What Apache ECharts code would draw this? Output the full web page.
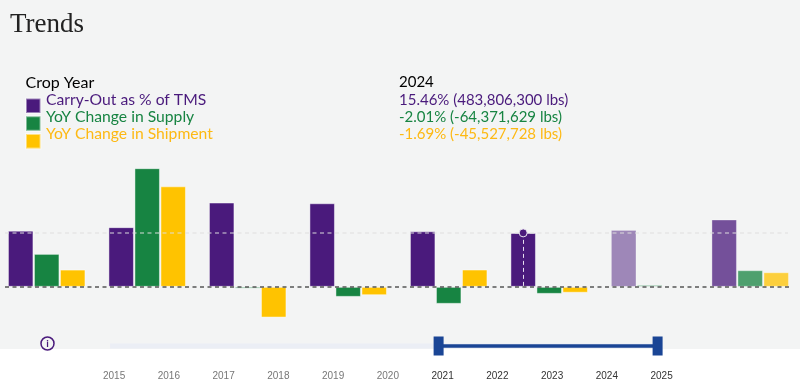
<!DOCTYPE html>
<html>
<head>
<meta charset="utf-8">
<script src="https://cdn.jsdelivr.net/npm/echarts@6/dist/echarts.min.js"></script>
<style>
  html, body { margin: 0; padding: 0; background: #fff; }
  /* grey panel stops where the year slider strip starts */
  #chart { width: 800px; height: 382px; background: linear-gradient(#f3f4f4 349px, #fff 349px); }
</style>
</head>
<body>
<div id="chart"></div>
<script>
  var categories = ['2019', '2020', '2021', '2022', '2023', '2024', '2025', '2026']
  var carryOut = [16.1, 17.1, 24.15, 23.95, 15.93, 15.46, 16.3, 19.3]
  var supply = [9.45, 34, -0.5, -2.87, -4.87, -2.01, 0.57, 4.76]
  var shipment = [4.95, 28.8, -8.8, -2.4, 4.96, -1.69, -0.3, 4.18]
  var referenceLevel = [15.56]

  var seriesNames = ['Carry-Out as % of TMS', 'YoY Change in Supply', 'YoY Change in Shipment']
  var readoutYear = ['2024']
  var readoutLines = ['15.46% (483,806,300 lbs)', '-2.01% (-64,371,629 lbs)', '-1.69% (-45,527,728 lbs)']

  var sliderYears = ['2015', '2016', '2017', '2018', '2019', '2020', '2021', '2022', '2023', '2024', '2025']
  var sliderRange = ['2021', '2025']

  var PURPLE = '#4a1a7c'
  var GREEN = '#178442'
  var YELLOW = '#ffc300'
  var YELLOW_TEXT = '#fdb913'
  var FONT = 'Lato, sans-serif'
  // future crop years are drawn washed out
  var fade = { '2025': 0.5, '2026': 0.75 }

  function withFade(values) {
    return values.map(function(v, i) {
      var o = fade[categories[i]]
      return o ? { value: v, itemStyle: { opacity: o } } : v
    })
  }

  function barSeries(name, values, color) {
    return {
      name: name,
      type: 'bar',
      data: withFade(values),
      barWidth: 25.5,
      barGap: '2%',
      itemStyle: { color: color, borderColor: 'rgba(255,255,255,0.45)', borderWidth: 1 }
    }
  }

  var bars = [
    barSeries(seriesNames[0], carryOut, PURPLE),
    barSeries(seriesNames[1], supply, GREEN),
    barSeries(seriesNames[2], shipment, YELLOW)
  ]

  // hover cursor on the selected year
  var pick = categories.indexOf(readoutYear[0])
  bars[0].markPoint = {
    symbol: 'circle',
    symbolSize: 8,
    silent: true,
    label: { show: false },
    itemStyle: { color: PURPLE, borderColor: '#e9e4ef', borderWidth: 1 },
    data: [{ coord: [categories[pick], carryOut[pick]] }]
  }
  bars[0].markLine = {
    symbol: 'none',
    silent: true,
    label: { show: false },
    lineStyle: { color: '#e6deef', type: [4, 3], width: 1 },
    data: [[{ coord: [categories[pick], carryOut[pick]] }, { coord: [categories[pick], 0] }]]
  }
  // zero line and reference line go on the last series so they stay above the bars
  bars[2].markLine = {
    symbol: 'none',
    silent: true,
    label: { show: false },
    data: [
      [
        { x: 5, yAxis: 0, lineStyle: { color: '#555', type: [4, 3.5], width: 1.5 } },
        { x: 791, yAxis: 0 }
      ],
      [
        { x: 5, yAxis: referenceLevel[0], lineStyle: { color: 'rgba(222,222,222,0.65)', type: [4, 3.5], width: 1.6 } },
        { x: 788, yAxis: referenceLevel[0] }
      ]
    ]
  }

  var track = {
    type: 'line',
    xAxisIndex: 1,
    yAxisIndex: 1,
    silent: true,
    showSymbol: false,
    lineStyle: { color: '#ebeef5', width: 5 },
    data: [[sliderYears[0], 0.5], [sliderYears[sliderYears.length - 1], 0.5]]
  }
  var selection = {
    type: 'line',
    xAxisIndex: 1,
    yAxisIndex: 1,
    silent: true,
    symbol: 'rect',
    symbolSize: [10, 19],
    itemStyle: { color: '#1a4595' },
    lineStyle: { color: '#1a4595', width: 3.5 },
    data: [[sliderRange[0], 0.5], [sliderRange[1], 0.5]]
  }

  function textAt(x, y, text, color, size, family) {
    return {
      type: 'text',
      x: x,
      y: y,
      silent: true,
      style: {
        text: text,
        fill: color,
        font: (size || 15) + 'px ' + (family || FONT),
        textVerticalAlign: 'middle'
      }
    }
  }

  var chart = echarts.init(document.getElementById('chart'), null, { renderer: 'canvas' })
  chart.setOption({
    animation: false,
    backgroundColor: 'transparent',
    // swatches only, the labels sit higher than the swatches and are placed below
    legend: {
      orient: 'vertical',
      left: 25,
      top: 97.5,
      padding: 0,
      icon: 'rect',
      itemWidth: 14.5,
      itemHeight: 14.5,
      itemGap: 1.3,
      selectedMode: false,
      data: seriesNames,
      formatter: function() { return '' }
    },
    grid: [
      { left: -3.55, top: 161.2, width: 804, height: 160.54, outerBoundsMode: 'none' },
      { left: 110.1, top: 345.5, width: 547.5, height: 1, outerBoundsMode: 'none' }
    ],
    xAxis: [
      { type: 'category', data: categories, show: false },
      {
        type: 'category',
        gridIndex: 1,
        data: sliderYears,
        boundaryGap: false,
        axisLine: { show: false },
        axisTick: { show: false },
        axisLabel: {
          interval: 0,
          margin: 25,
          fontFamily: 'Liberation Sans',
          fontSize: 10,
          // labels sit a little right of the handles
          padding: [0, 0, 0, 8],
          color: function(v) {
            return v >= sliderRange[0] && v <= sliderRange[1] ? '#333' : '#777'
          }
        }
      }
    ],
    yAxis: [
      { type: 'value', min: -10, max: 36, show: false },
      { type: 'value', gridIndex: 1, min: 0, max: 1, show: false }
    ],
    series: bars.concat([track, selection]),
    graphic: [
      textAt(10, 25, 'Trends', '#222', 27, '"Liberation Serif"'),
      textAt(25.5, 82.5, 'Crop Year', '#000', 16),
      textAt(46, 100, seriesNames[0], PURPLE, 15.7),
      textAt(46, 117, seriesNames[1], GREEN, 15.7),
      textAt(46, 134, seriesNames[2], YELLOW_TEXT, 15.7),
      textAt(399, 82.5, readoutYear[0], '#000'),
      textAt(399, 100, readoutLines[0], PURPLE),
      textAt(399, 117, readoutLines[1], GREEN),
      textAt(399, 134, readoutLines[2], YELLOW_TEXT),
      {
        type: 'circle',
        shape: { cx: 47.5, cy: 343.5, r: 6.5 },
        silent: true,
        style: { fill: 'transparent', stroke: PURPLE, lineWidth: 1.5 }
      },
      {
        type: 'text',
        x: 47.5,
        y: 343.5,
        silent: true,
        style: {
          text: 'i',
          fill: PURPLE,
          font: 'bold 10px ' + FONT,
          textAlign: 'center',
          textVerticalAlign: 'middle'
        }
      }
    ]
  })
</script>
</body>
</html>
